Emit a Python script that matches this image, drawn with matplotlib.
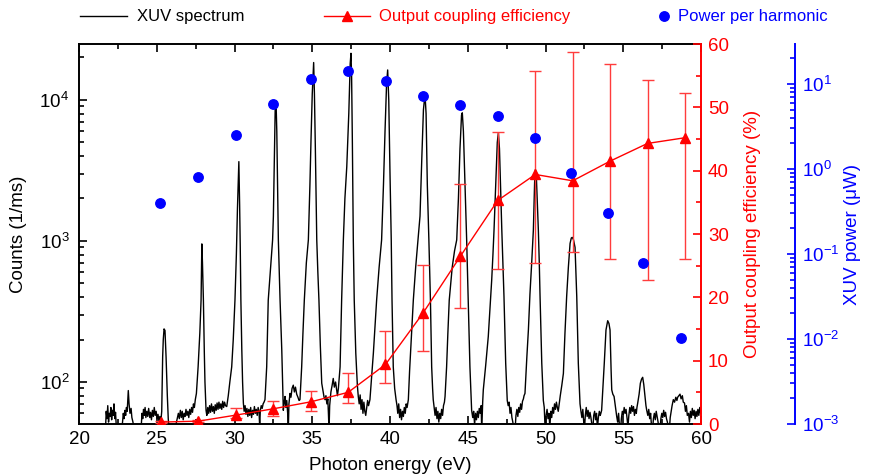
import matplotlib
matplotlib.use('Agg')
import matplotlib.pyplot as plt
from matplotlib.ticker import MultipleLocator, LogLocator, NullFormatter
from matplotlib.lines import Line2D
import numpy as np

plt.rcParams['font.family'] = ['Liberation Sans', 'DejaVu Sans']
plt.rcParams['mathtext.fontset'] = 'custom'
plt.rcParams['mathtext.rm'] = 'Liberation Sans'
plt.rcParams['mathtext.it'] = 'Liberation Sans:italic'
plt.rcParams['mathtext.bf'] = 'Liberation Sans:bold'
plt.rcParams['mathtext.default'] = 'regular'

# ---------------- data ----------------
spec_ev = [
    21.70, 21.75, 21.80, 21.85, 21.90, 21.95, 22.00, 22.05, 22.10, 22.15,
    22.20, 22.25, 22.30, 22.35, 22.40, 22.50, 22.70, 22.80, 22.85, 22.90,
    22.95, 23.00, 23.05, 23.10, 23.17, 23.22, 23.28, 23.35, 23.40, 23.47,
    23.55, 23.80, 24.00, 24.05, 24.10, 24.15, 24.20, 24.25, 24.30, 24.36,
    24.42, 24.48, 24.55, 24.60, 24.66, 24.72, 24.78, 24.84, 24.90, 24.96,
    25.02, 25.08, 25.14, 25.20, 25.26,
    25.32, 25.38, 25.42, 25.47, 25.53, 25.60, 25.68, 25.74, 25.80, 26.10,
    26.20, 26.39, 26.45, 26.52, 26.58, 26.64, 26.70, 26.76, 26.82, 26.88,
    26.94, 27.00, 27.06, 27.12, 27.18, 27.24, 27.30, 27.36, 27.42, 27.48,
    27.55, 27.62, 27.66, 27.72, 27.77, 27.85, 27.90, 27.94, 28.00, 28.06,
    28.10, 28.17, 28.22, 28.28, 28.34, 28.40, 28.46, 28.52, 28.58, 28.64,
    28.70, 28.76, 28.82, 28.88, 28.94, 29.00, 29.06, 29.12, 29.18, 29.24,
    29.30, 29.36, 29.42,
    29.50, 29.60, 29.70, 29.82, 29.92, 30.03, 30.12, 30.19, 30.28, 30.33,
    30.37, 30.41, 30.47, 30.52, 30.57, 30.62, 30.68, 30.74, 30.80, 30.86,
    30.92, 30.98, 31.04, 31.10, 31.16, 31.22, 31.28, 31.34, 31.40, 31.46,
    31.52, 31.58, 31.62, 31.66, 31.72, 31.78, 31.84, 31.90,
    31.96, 32.07, 32.17, 32.30, 32.45, 32.50, 32.58, 32.62, 32.67, 32.72,
    32.77, 32.82, 32.93, 33.04, 33.14, 33.20, 33.25, 33.30, 33.36, 33.42,
    33.46, 33.50, 33.57, 33.63, 33.70, 33.78, 33.85, 33.92, 34.00, 34.08,
    34.15,
    34.21, 34.32, 34.40, 34.49, 34.62, 34.75, 34.85, 34.92, 35.00, 35.09,
    35.14, 35.20, 35.29, 35.36, 35.43, 35.52, 35.61, 35.70, 35.76, 35.82,
    35.88, 35.94, 36.00, 36.04, 36.08, 36.12, 36.20, 36.28, 36.35, 36.42,
    36.50, 36.57, 36.62,
    36.68, 36.79, 36.89, 37.00, 37.10, 37.22, 37.35, 37.44, 37.49, 37.53,
    37.58, 37.64, 37.70, 37.80, 37.90, 37.96, 38.02, 38.08, 38.14, 38.20,
    38.26, 38.32, 38.38, 38.44, 38.50, 38.56, 38.62,
    38.71, 38.82, 38.93, 39.04, 39.14, 39.30, 39.46, 39.58, 39.68, 39.78,
    39.85, 39.92, 40.00, 40.08, 40.13, 40.21, 40.30, 40.39, 40.45, 40.50,
    40.56, 40.62, 40.68, 40.74, 40.80, 40.86, 40.92, 40.98, 41.04, 41.10,
    41.18, 41.26, 41.33, 41.42, 41.50, 41.65, 41.80, 41.93, 42.05, 42.15,
    42.25, 42.32, 42.40, 42.50, 42.60, 42.68, 42.74, 42.78, 42.84, 42.90,
    42.96, 43.02, 43.08, 43.14, 43.20, 43.26, 43.32, 43.38, 43.44, 43.50,
    43.54, 43.64, 43.72, 43.81, 44.00, 44.15, 44.29, 44.40, 44.50, 44.60,
    44.65, 44.72, 44.80, 44.93, 45.03, 45.14, 45.20, 45.25, 45.32, 45.38,
    45.44, 45.50, 45.56, 45.62, 45.68, 45.74, 45.80, 45.86, 45.90, 45.96,
    46.00, 46.15, 46.32, 46.45, 46.54, 46.62, 46.69, 46.80, 46.90, 46.97,
    47.04, 47.12, 47.19, 47.27, 47.33, 47.44, 47.54, 47.60, 47.66, 47.72,
    47.78, 47.84, 47.90, 47.96, 48.04, 48.10, 48.16, 48.22, 48.28, 48.34,
    48.40, 48.46, 48.52, 48.58, 48.62,
    48.68, 48.80, 48.90, 49.00, 49.11, 49.22, 49.30, 49.35, 49.42, 49.54,
    49.60, 49.65, 49.76, 49.86, 49.92, 49.98, 50.04, 50.10, 50.16, 50.22,
    50.28, 50.34, 50.40, 50.46, 50.52, 50.58, 50.64, 50.70, 50.76, 50.82,
    50.88,
    50.95, 51.05, 51.15, 51.25, 51.36, 51.47, 51.58, 51.66, 51.72, 51.80,
    51.90, 52.01, 52.11, 52.22, 52.28, 52.34, 52.40, 52.46, 52.50, 52.56,
    52.62, 52.68, 52.74, 52.80, 52.86, 52.92, 52.98, 53.04, 53.10, 53.16,
    53.22, 53.28, 53.34, 53.40, 53.46, 53.52, 53.56,
    53.61, 53.70, 53.78, 53.89, 54.00, 54.08, 54.15, 54.22, 54.26, 54.33,
    54.41, 54.50, 54.58, 54.64, 54.70, 54.76, 54.82, 54.88, 54.94, 55.00,
    55.06, 55.12, 55.18, 55.24, 55.30, 55.36, 55.42, 55.48, 55.54, 55.60,
    55.66, 55.72, 55.78, 55.84, 55.88,
    55.93, 56.02, 56.10, 56.18, 56.25, 56.32, 56.40, 56.46, 56.51, 56.58,
    56.64, 56.70, 56.76, 56.82, 56.88, 56.94, 57.00, 57.06, 57.12, 57.18,
    57.24, 57.30, 57.36, 57.42, 57.48, 57.54, 57.60, 57.66, 57.72, 57.78,
    57.84, 57.90, 57.96, 58.02, 58.08, 58.14,
    58.22, 58.30, 58.38, 58.45, 58.50, 58.58, 58.65, 58.72, 58.80, 58.86,
    58.94, 59.00, 59.06, 59.12, 59.20, 59.26, 59.32, 59.38, 59.44, 59.50,
    59.56, 59.62, 59.68, 59.74, 59.80, 59.86, 59.92, 59.98,
]
spec_counts = [
    45, 62, 55, 68, 52, 60, 57, 66, 54, 63,
    58, 70, 55, 61, 48, 42, 42, 52, 60, 55,
    63, 58, 66, 62, 87, 70, 60, 65, 56, 52,
    45, 42, 48, 60, 55, 64, 58, 66, 56, 62,
    57, 65, 56, 61, 54, 63, 57, 66, 58, 62,
    55, 59, 53, 57, 52,
    62, 151, 200, 238, 232, 150, 80, 55, 44, 44,
    48, 60, 55, 63, 56, 62, 54, 60, 57, 64,
    58, 62, 56, 64, 59, 66, 61, 70, 66, 75,
    83, 110, 128, 170, 222, 381, 953, 700, 381, 160,
    100, 63, 58, 66, 60, 68, 61, 70, 62, 67,
    60, 69, 63, 71, 64, 72, 65, 70, 64, 73,
    66, 72, 68,
    67, 80, 100, 128, 200, 381, 800, 1700, 3650, 1800,
    900, 381, 169, 100, 71, 62, 68, 59, 65, 57,
    64, 58, 66, 56, 63, 59, 67, 60, 64, 58,
    66, 61, 48, 63, 68, 65, 70, 72,
    75, 128, 381, 600, 1017, 1490, 5000, 9000, 9800, 6000,
    2500, 1017, 381, 169, 63, 72, 79, 66, 74, 60,
    45, 70, 83, 78, 90, 95, 85, 92, 82, 78,
    74,
    75, 128, 220, 381, 700, 1017, 2500, 5200, 11000, 18400,
    11000, 4500, 1017, 600, 381, 180, 98, 85, 78, 75,
    80, 70, 76, 60, 45, 68, 85, 95, 106, 92,
    100, 88, 80,
    90, 128, 381, 1017, 2000, 3360, 8000, 18000, 21400, 15000,
    5000, 1017, 381, 160, 95, 79, 70, 81, 64, 75,
    60, 72, 62, 58, 66, 74, 68,
    75, 110, 160, 250, 381, 650, 1017, 2500, 6000, 13000,
    16300, 10000, 3000, 1017, 381, 128, 90, 75, 68, 60,
    70, 56, 64, 54, 62, 57, 66, 60, 70, 66,
    75, 120, 169, 260, 381, 650, 1017, 1500, 4000, 8500,
    11000, 8000, 2500, 1017, 381, 128, 90, 75, 66, 58,
    66, 55, 62, 52, 60, 55, 64, 58, 68, 72,
    79, 128, 220, 381, 650, 850, 1017, 2000, 4500, 7800,
    8100, 6000, 3000, 1017, 381, 128, 85, 63, 56, 62,
    50, 60, 54, 62, 56, 65, 60, 68, 45, 72,
    88, 130, 210, 360, 528, 800, 1197, 2500, 5000, 5860,
    4500, 2200, 1197, 650, 403, 136, 74, 68, 72, 60,
    66, 56, 52, 45, 45, 58, 64, 57, 66, 61,
    70, 64, 73, 76, 80,
    83, 150, 234, 420, 695, 1197, 2600, 3200, 2700, 1197,
    700, 403, 136, 74, 66, 45, 58, 64, 55, 60,
    48, 62, 56, 66, 60, 70, 64, 72, 66, 62,
    70,
    80, 95, 115, 220, 403, 650, 960, 1050, 1060, 1020,
    900, 403, 136, 70, 62, 56, 64, 52, 45, 58,
    66, 57, 63, 55, 61, 56, 50, 45, 58, 62,
    54, 60, 47, 56, 62, 58, 60,
    63, 95, 136, 234, 272, 260, 234, 120, 88, 82,
    79, 66, 57, 52, 60, 48, 45, 55, 62, 58,
    66, 60, 64, 56, 48, 58, 66, 60, 68, 62,
    67, 58, 64, 60, 66,
    71, 82, 98, 105, 108, 96, 79, 68, 63, 58,
    64, 55, 60, 48, 45, 55, 60, 54, 62, 57,
    52, 45, 45, 55, 60, 56, 63, 57, 61, 55,
    52, 47, 45, 56, 62, 68,
    75, 72, 78, 74, 78, 80, 82, 76, 80, 72,
    71, 62, 68, 58, 60, 52, 62, 56, 65, 58,
    63, 55, 62, 57, 64, 58, 66, 60,
]

eff_ev = [25.27, 27.68, 30.08, 32.49, 34.90, 37.31, 39.71, 42.12,
          44.53, 46.93, 49.34, 51.75, 54.15, 56.56, 58.97]
eff_pct = [0.3, 0.45, 1.4, 2.4, 3.5, 5.0, 9.4, 17.5,
           26.5, 35.3, 39.4, 38.4, 41.5, 44.3, 45.2]
eff_hi = [0.4, 0.6, 2.5, 3.6, 5.2, 8.05, 14.7, 25.1,
          37.9, 46.1, 55.8, 58.8, 56.8, 54.3, 52.3]
eff_lo = [0.2, 0.3, 0.95, 1.2, 2.05, 3.26, 6.5, 11.5,
          18.3, 24.4, 25.5, 27.1, 26.0, 22.7, 26.0]

pow_ev = [25.21, 27.67, 30.10, 32.50, 34.90, 37.32, 39.72, 42.10,
          44.52, 46.93, 49.33, 51.66, 54.02, 56.25, 58.70]
pow_uw = [0.40, 0.80, 2.49, 5.87, 11.5, 14.1, 10.8, 7.28,
          5.66, 4.17, 2.30, 0.90, 0.30, 0.078, 0.0102]

# ---------------- figure ----------------
W, H = 871, 476
FS = 13.5
fig = plt.figure(figsize=(W / 100, H / 100), dpi=100)
L, R, T, B = 79, 701, 44, 424
ax = fig.add_axes([L / W, 1 - B / H, (R - L) / W, (B - T) / H])

ax.plot(spec_ev, spec_counts, color='black', lw=1.0, zorder=2)
ax.set_yscale('log')
ax.set_xlim(20, 60)
ax.set_ylim(50.4, 2.49e4)
ax.xaxis.set_major_locator(MultipleLocator(5))
ax.xaxis.set_minor_locator(MultipleLocator(2.5))
ax.yaxis.set_major_locator(LogLocator(base=10, numticks=10))
ax.yaxis.set_minor_locator(LogLocator(base=10, subs=np.arange(2, 10), numticks=20))
ax.yaxis.set_minor_formatter(NullFormatter())
ax.tick_params(axis='both', which='both', direction='in', top=True, right=False,
               labelsize=FS, width=1.2, colors='black')
ax.tick_params(axis='both', which='major', length=6)
ax.tick_params(axis='both', which='minor', length=3.5)
ax.tick_params(axis='x', pad=5)
ax.tick_params(axis='y', pad=7)
for s in ['left', 'bottom', 'top']:
    ax.spines[s].set_linewidth(1.4)
ax.spines['right'].set_visible(False)
ax.set_xlabel('Photon energy (eV)', fontsize=FS)
ax.xaxis.set_label_coords(0.5, (B - 457) / (B - T))
ax.set_ylabel('Counts (1/ms)', fontsize=FS)
ax.yaxis.set_label_coords((27 - L) / (R - L), 0.5)

# efficiency axis (red)
ax2 = ax.twinx()
pct = np.array(eff_pct)
yerr = [pct - np.array(eff_lo), np.array(eff_hi) - pct]
ax2.errorbar(eff_ev, eff_pct, yerr=yerr, color='red', lw=1.0, marker='^',
             ms=7.5, mec='red', mfc='red', ecolor='#ff3c3c', elinewidth=1.0,
             capsize=4, capthick=1.0, zorder=3)
ax2.set_ylim(0, 60)
ax2.yaxis.set_major_locator(MultipleLocator(10))
ax2.yaxis.set_minor_locator(MultipleLocator(5))
ax2.tick_params(axis='y', which='both', direction='in', colors='red',
                labelsize=FS, width=1.2, pad=5)
ax2.tick_params(axis='y', which='major', length=6)
ax2.tick_params(axis='y', which='minor', length=3.5)
for s in ['left', 'bottom', 'top']:
    ax2.spines[s].set_visible(False)
ax2.spines['right'].set_color('red')
ax2.spines['right'].set_linewidth(1.4)
ax2.set_ylabel('Output coupling efficiency (%)', color='red', fontsize=FS)
ax2.yaxis.set_label_coords((744 - L) / (R - L), 0.5)

# power axis (blue)
ax3 = ax.twinx()
ax3.spines['right'].set_position(('axes', (795 - L) / (R - L)))
ax3.plot(pow_ev, pow_uw, ls='none', marker='o', ms=6.8, color='blue', zorder=4)
ax3.set_yscale('log')
ax3.set_ylim(1e-3, 29.6)
ax3.yaxis.set_major_locator(LogLocator(base=10, numticks=10))
ax3.yaxis.set_minor_locator(LogLocator(base=10, subs=np.arange(2, 10), numticks=30))
ax3.yaxis.set_minor_formatter(NullFormatter())
ax3.tick_params(axis='y', which='both', direction='in', colors='blue',
                labelsize=FS, width=1.2, pad=5)
ax3.tick_params(axis='y', which='major', length=6)
ax3.tick_params(axis='y', which='minor', length=3.5)
for s in ['left', 'bottom', 'top']:
    ax3.spines[s].set_visible(False)
ax3.spines['right'].set_color('blue')
ax3.spines['right'].set_linewidth(1.4)
ax3.set_ylabel('XUV power (μW)', color='blue', fontsize=FS)
ax3.yaxis.set_label_coords((844 - L) / (R - L), 0.5)

# legend entries across the top
LFS = 12
ly = 1 - 17 / H
leg1 = fig.legend(handles=[Line2D([], [], color='black', lw=1.0)],
                  labels=['XUV spectrum'], loc='center left',
                  bbox_to_anchor=(80 / W, ly), frameon=False, fontsize=LFS,
                  handlelength=2.8, handletextpad=0.6, borderpad=0, borderaxespad=0)
leg2 = fig.legend(handles=[Line2D([], [], color='red', lw=1.0, marker='^', ms=7.5)],
                  labels=['Output coupling efficiency'], loc='center left',
                  bbox_to_anchor=(324 / W, ly), frameon=False, fontsize=LFS,
                  handlelength=2.75, handletextpad=0.55, borderpad=0, borderaxespad=0)
leg2.get_texts()[0].set_color('red')
leg3 = fig.legend(handles=[Line2D([], [], color='blue', ls='none', marker='o', ms=6.8)],
                  labels=['Power per harmonic'], loc='center left',
                  bbox_to_anchor=(658 / W, ly), frameon=False, fontsize=LFS,
                  handlelength=0.7, handletextpad=0.5, borderpad=0, borderaxespad=0)
leg3.get_texts()[0].set_color('blue')

fig.savefig('out.png', dpi=100)
